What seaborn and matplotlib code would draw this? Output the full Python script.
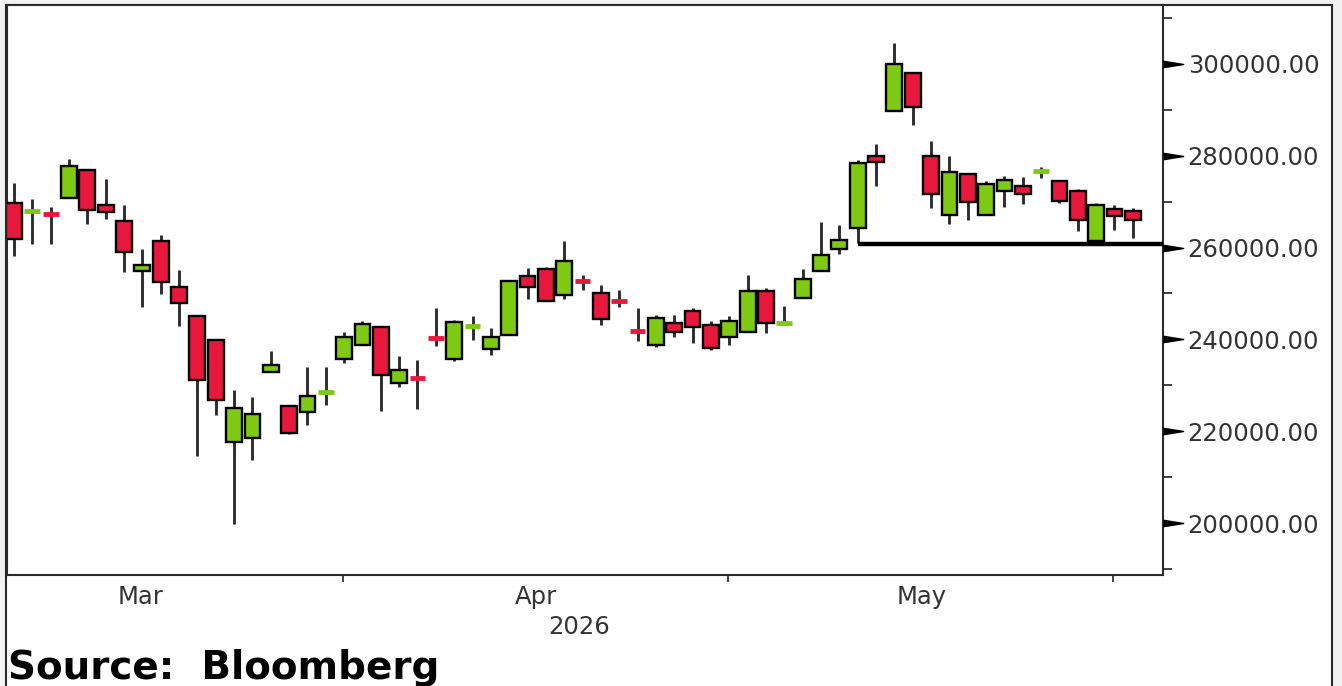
import numpy as np
import pandas as pd
import seaborn as sns
import matplotlib.pyplot as plt
from matplotlib.patches import Rectangle
import matplotlib.transforms as mtransforms

# daily candles (oldest first)
opens = [269700, 267700, 267400, 270800, 276900, 269200, 265800, 254900, 261400, 251500,
         245000, 239800, 217600, 218600, 232800, 225500, 224100, 228300, 235700, 238800,
         242800, 230600, 231800, 240400, 235700, 242700, 237900, 241000, 253900, 255400,
         249700, 252900, 250200, 248400, 242000, 238800, 243600, 246200, 243200, 240600,
         241500, 250600, 243400, 249100, 254800, 259600, 264200, 280000, 289800, 298100,
         280000, 267000, 276100, 267000, 272200, 273500, 276500, 274400, 272200, 261500,
         268400, 268000]
highs = [274000, 270500, 268800, 279200, 276900, 274900, 269300, 259700, 262800, 255000,
         245400, 239800, 229000, 227400, 237400, 225500, 233900, 233900, 241500, 243900,
         243000, 236400, 235600, 246800, 244300, 245000, 242500, 252800, 255500, 255700,
         261500, 254100, 251900, 250800, 246800, 245400, 245400, 246800, 244100, 245000,
         254100, 251200, 247200, 255400, 265500, 265000, 279100, 282600, 304600, 298300,
         283100, 280000, 276300, 274400, 275500, 275300, 277600, 274400, 272700, 269700,
         269200, 268600]
lows = [258200, 260800, 260800, 270800, 265100, 266300, 254700, 247000, 249900, 243000,
        214500, 223600, 199900, 213800, 232800, 219400, 221400, 225800, 234800, 238800,
        224500, 229600, 224900, 238500, 235400, 239800, 236600, 241000, 248800, 248400,
        248800, 250800, 243200, 247000, 239700, 238300, 240500, 239200, 237600, 238800,
        241500, 241400, 243200, 249100, 254800, 258600, 261000, 273300, 289800, 286700,
        268600, 265200, 265900, 267000, 268900, 269500, 275100, 269800, 263500, 261500,
        263900, 262100]
closes = [261800, 268000, 267100, 277800, 268200, 267800, 259100, 256200, 252600, 247900,
          231200, 226700, 225000, 223800, 234500, 219700, 227700, 228600, 240600, 243300,
          232300, 233400, 231500, 240200, 243700, 243000, 240600, 252800, 251500, 248400,
          257100, 252700, 244400, 248200, 241800, 244600, 241500, 242800, 238100, 243900,
          250600, 243600, 243700, 253200, 258300, 261700, 278400, 278600, 299900, 290600,
          271600, 276400, 269900, 273800, 274700, 271600, 276700, 270200, 266000, 269200,
          266900, 266000]

month_labels = ['Mar', 'Apr', 'May']
month_label_pos = [6.9, 28.45, 49.5]
month_bounds = [17.95, 38.95, 59.9]
year_label = '2026'
year_pos = 30.8
support_level = 260800
support_start = 46
y_major = [200000, 220000, 240000, 260000, 280000, 300000]
y_minor = [190000, 210000, 230000, 250000, 270000, 290000, 310000]

UP = '#7dc913'
DOWN = '#e8183c'
WICK = '#2e2e2e'

df = pd.DataFrame({'open': opens, 'high': highs, 'low': lows, 'close': closes})
df['i'] = np.arange(len(df))
df['up'] = df['close'] >= df['open']
df['doji'] = (df['close'] - df['open']).abs() <= 500

sns.set_theme(style='white')
plt.rcParams['font.family'] = ['DejaVu Sans']

fig = plt.figure(figsize=(13.42, 6.86), dpi=100)
fig.patch.set_facecolor('#f2f2f2')
fig.add_artist(Rectangle((6 / 1342, -0.01), 1326 / 1342, 681 / 686 + 0.01,
                         transform=fig.transFigure, facecolor='white',
                         edgecolor='#2a2a2a', linewidth=1.5, zorder=0))
ax = fig.add_axes([7 / 1342, 111 / 686, 1155.7 / 1342, 570 / 686])
ax.set_facecolor('white')

# wicks
ax.vlines(df['i'], df['low'], df['high'], color=WICK, linewidth=2.1, zorder=2)

# bodies
body = df[~df['doji']]
ax.bar(body['i'], body['close'] - body['open'], bottom=body['open'], width=0.86,
       color=[UP if u else DOWN for u in body['up']], edgecolor='black',
       linewidth=1.7, zorder=3)

# doji bars
doji = df[df['doji']]
ax.hlines((doji['open'] + doji['close']) / 2, doji['i'] - 0.43, doji['i'] + 0.43,
          colors=[UP if u else DOWN for u in doji['up']], linewidth=3.5, zorder=3)

ax.set_xlim(-0.38, 62.63)
ax.set_ylim(188700, 312800)

# support line
ax.hlines(support_level, support_start, 62.63, color='black', linewidth=3.2, zorder=4)

ax.yaxis.tick_right()
ax.set_yticks(y_major)
ax.set_yticklabels([f'{v:.2f}' for v in y_major])
ax.set_yticks(y_minor, minor=True)
ax.tick_params(axis='y', which='major', length=0, pad=18, labelsize=17.5, labelcolor='#333333')
ax.tick_params(axis='y', which='minor', right=True, length=6.5, width=1.2, color='#222222')
trans_y = mtransforms.blended_transform_factory(ax.transAxes, ax.transData)
ax.plot([1.0] * len(y_major), y_major, linestyle='none',
        marker=[(0, -0.32), (2, 0), (0, 0.32)], markersize=29, color='black',
        transform=trans_y, clip_on=False, zorder=5)

ax.set_xticks(month_bounds)
ax.set_xticklabels([''] * len(month_bounds))
ax.set_xticks(month_label_pos, minor=True)
ax.set_xticklabels(month_labels, minor=True)
ax.tick_params(axis='x', which='major', bottom=True, length=5, width=1.2, color='#222222')
ax.tick_params(axis='x', which='minor', bottom=True, length=0, pad=7, labelsize=17.5,
               labelcolor='#333333')
trans_x = mtransforms.blended_transform_factory(ax.transData, ax.transAxes)
ax.text(year_pos, -0.091, year_label, transform=trans_x, ha='center', va='center',
        fontsize=17.5, color='#333333')

for side in ['left', 'right', 'bottom', 'top']:
    ax.spines[side].set_visible(True)
    ax.spines[side].set_color('#2a2a2a')
    ax.spines[side].set_linewidth(1.5)
ax.grid(False)

fig.text(8 / 1342, 7 / 686, 'Source:  Bloomberg', fontsize=28, fontweight='bold',
         color='black', ha='left', va='baseline')

fig.savefig('out.png', dpi=100, facecolor=fig.get_facecolor())
